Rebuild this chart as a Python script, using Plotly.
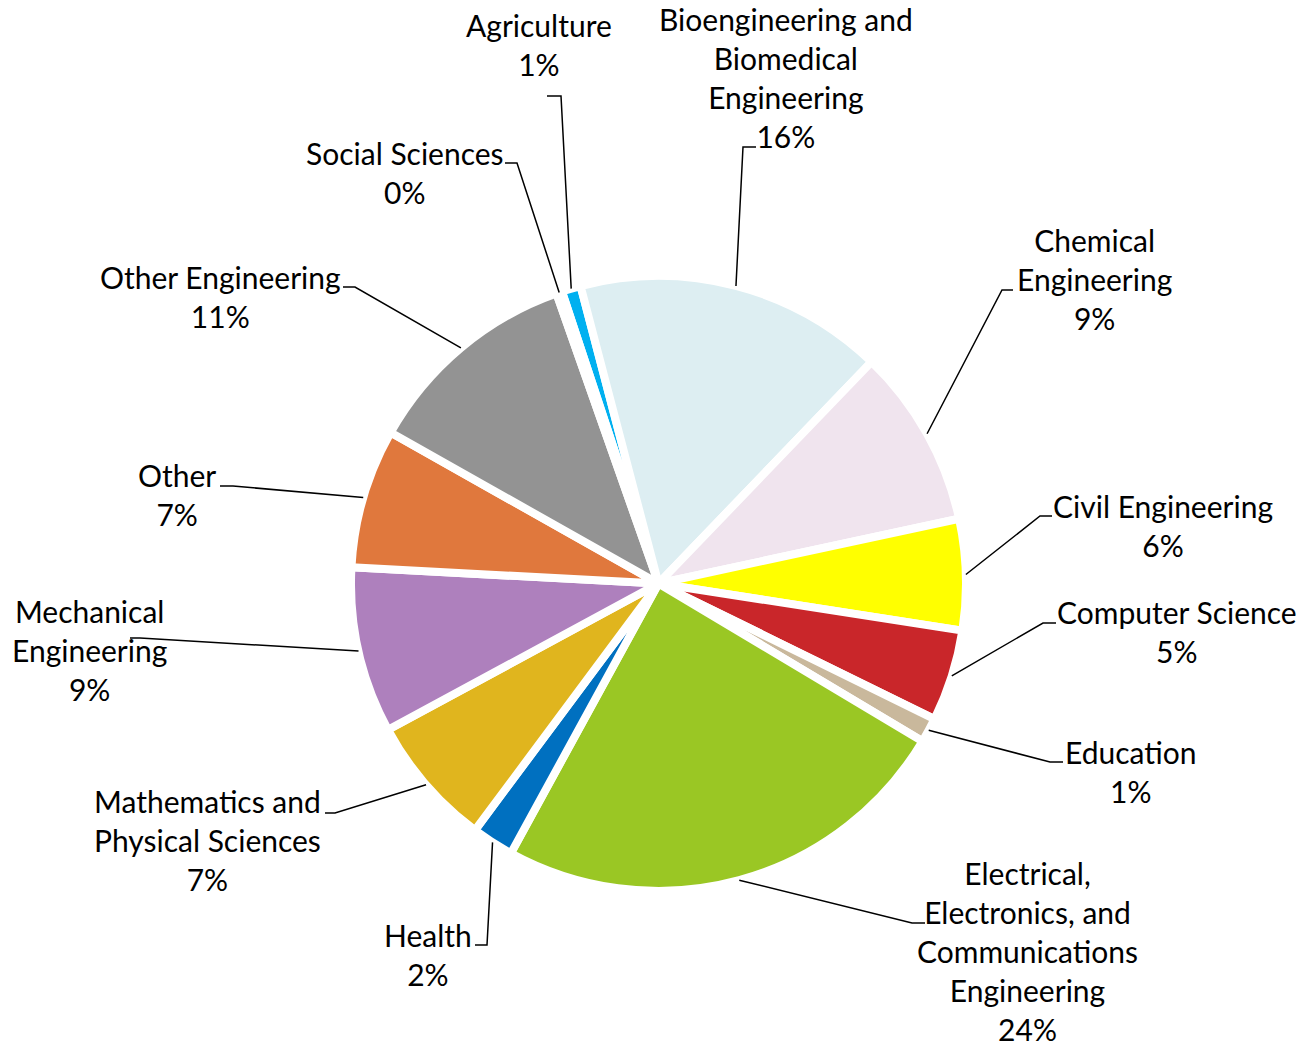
import math
import plotly.graph_objects as go

# ---------------- data ----------------
categories = [
    "Agriculture",
    "Bioengineering and Biomedical Engineering",
    "Chemical Engineering",
    "Civil Engineering",
    "Computer Science",
    "Education",
    "Electrical, Electronics, and Communications Engineering",
    "Health",
    "Mathematics and Physical Sciences",
    "Mechanical Engineering",
    "Other",
    "Other Engineering",
    "Social Sciences",
]
values = [1.0, 16.2, 9.4, 5.8, 4.8, 1.3, 24.3, 2.2, 6.9, 8.7, 7.3, 11.4, 0.3]
label_texts = [
    "Agriculture",
    "Bioengineering and<br>Biomedical<br>Engineering",
    "Chemical<br>Engineering",
    "Civil Engineering",
    "Computer Science",
    "Education",
    "Electrical,<br>Electronics, and<br>Communications<br>Engineering",
    "Health",
    "Mathematics and<br>Physical Sciences",
    "Mechanical<br>Engineering",
    "Other",
    "Other Engineering",
    "Social Sciences",
]

# ---------------- styles / layout ----------------
colors = ["#00B0F0", "#DDEEF2", "#F0E4EE", "#FFFF00", "#C9262A", "#C9B89C",
          "#9AC724", "#0070C0", "#E0B51E", "#AE80BD", "#E0783D", "#939393", "#7F7F7F"]

W, H = 1301, 1050
CX, CY = 658.5, 583.5      # pie centre (px)
R = 307.5                  # pie radius (px)
ROTATION = -18.3           # start angle, degrees clockwise from 12 o'clock
FONT = dict(family="Lato, 'Open Sans', sans-serif", size=30, color="#000000")

# label block centre (px) and leader elbow (x, y, end_x) in px
label_pos = [(539, 45), (786, 77), (1094, 279), (1163, 525), (1177, 631), (1131, 771),
             (1027, 951), (428, 954), (207, 840), (89, 650), (177, 494), (221, 296), (405, 172)]
elbows = [(561, 96, 547), (743, 147, 756), (1002, 290, 1013), (1040, 516, 1052),
          (1043, 623, 1056), (1050, 762, 1063), (912, 923, 925), (487, 945, 475),
          (335, 813, 325), (140, 638, 130), (233, 486, 220), (355, 287, 343), (517, 163, 505)]


def px(x):
    return x / W


def py(y):
    return 1 - y / H


fig = go.Figure(go.Pie(
    labels=categories,
    values=values,
    sort=False,
    direction="clockwise",
    rotation=ROTATION,
    textinfo="none",
    hoverinfo="label+percent",
    marker=dict(colors=colors, line=dict(color="#FFFFFF", width=8)),
    domain=dict(x=[px(CX - R), px(CX + R)], y=[py(CY + R), py(CY - R)]),
    showlegend=False,
))

total = sum(values)
annotations = []
shapes = []
cum = 0.0
for i, v in enumerate(values):
    mid = math.radians(ROTATION + (cum + v / 2) / total * 360)
    cum += v
    ax = CX + R * math.sin(mid)
    ay = CY - R * math.cos(mid)
    pct = round(v / total * 100)
    lx, ly = label_pos[i]
    annotations.append(dict(
        x=px(lx), y=py(ly), xref="paper", yref="paper",
        text=f"{label_texts[i]}<br>{pct}%", showarrow=False,
        xanchor="center", yanchor="middle", align="center", font=FONT,
        borderpad=0,
    ))
    ex, ey, hx = elbows[i]
    shapes.append(dict(
        type="path", xref="paper", yref="paper",
        path=f"M {px(ax)},{py(ay)} L {px(ex)},{py(ey)} L {px(hx)},{py(ey)}",
        line=dict(color="#000000", width=1.5),
    ))

fig.update_layout(
    width=W, height=H,
    margin=dict(l=0, r=0, t=0, b=0),
    paper_bgcolor="#FFFFFF",
    plot_bgcolor="#FFFFFF",
    annotations=annotations,
    shapes=shapes,
)

fig.write_html("out.html",
               config={"displayModeBar": False},
               post_script="document.body.style.margin='0';document.body.style.overflow='hidden';")
